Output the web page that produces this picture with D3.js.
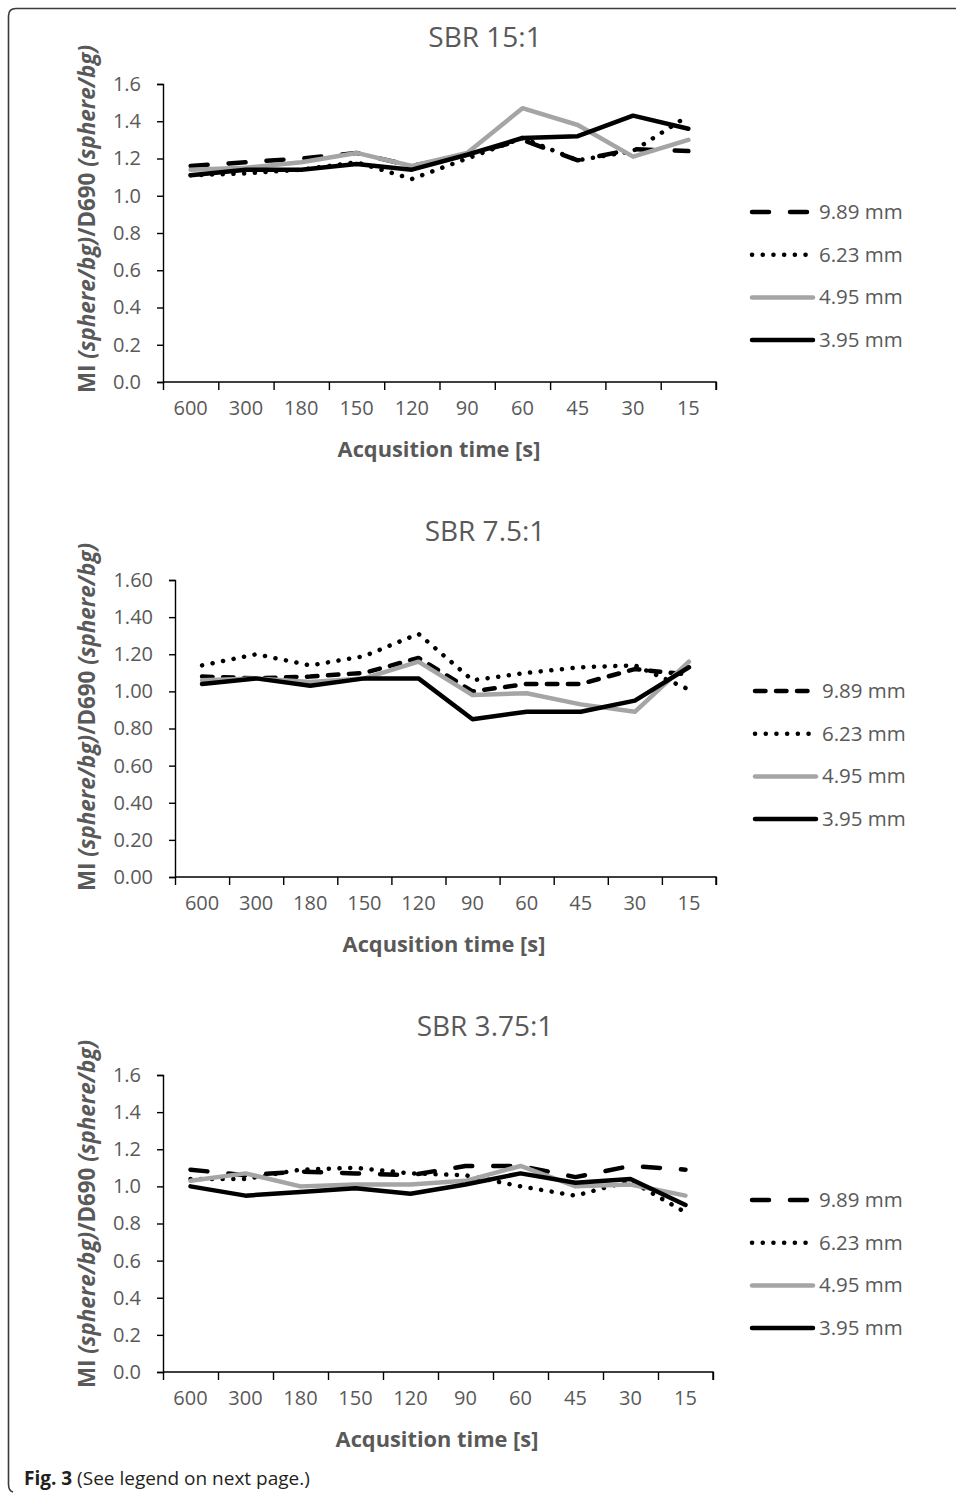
<!doctype html>
<html>
<head>
<meta charset="utf-8" />
<script src="https://cdn.jsdelivr.net/npm/d3@7"></script>
<style>
  body{margin:0;padding:0;background:#fff;}
  text{font-family:"Open Sans",sans-serif;}
</style>
</head>
<body>
<script type="text/javascript">

  // acquisition times (categories on x)
  var times = ["600","300","180","150","120","90","60","45","30","15"];
  // sphere sizes (series)
  var sizes = ["9.89 mm","6.23 mm","4.95 mm","3.95 mm"];
  var yTicks = [0,0.2,0.4,0.6,0.8,1.0,1.2,1.4,1.6];

  // SBR 15:1
  var sbr15_989 = [1.16,1.18,1.20,1.23,1.16,1.22,1.30,1.19,1.25,1.24];
  var sbr15_623 = [1.11,1.12,1.14,1.18,1.09,1.20,1.31,1.19,1.24,1.43];
  var sbr15_495 = [1.14,1.15,1.18,1.23,1.16,1.23,1.47,1.38,1.21,1.30];
  var sbr15_395 = [1.11,1.14,1.14,1.17,1.14,1.22,1.31,1.32,1.43,1.36];

  // SBR 7.5:1
  var sbr75_989 = [1.08,1.07,1.08,1.10,1.18,1.00,1.04,1.04,1.12,1.09];
  var sbr75_623 = [1.14,1.20,1.14,1.19,1.31,1.06,1.10,1.13,1.14,1.01];
  var sbr75_495 = [1.06,1.07,1.05,1.07,1.16,0.98,0.99,0.93,0.89,1.16];
  var sbr75_395 = [1.04,1.07,1.03,1.07,1.07,0.85,0.89,0.89,0.95,1.13];

  // SBR 3.75:1
  var sbr375_989 = [1.09,1.06,1.08,1.07,1.06,1.11,1.11,1.05,1.11,1.09];
  var sbr375_623 = [1.04,1.04,1.09,1.10,1.07,1.06,1.00,0.95,1.03,0.86];
  var sbr375_495 = [1.03,1.07,1.00,1.01,1.01,1.03,1.11,1.00,1.01,0.95];
  var sbr375_395 = [1.00,0.95,0.97,0.99,0.96,1.01,1.07,1.02,1.04,0.90];

  var W = 956, H = 1494;
  var svg = d3.select("body").append("svg").attr("width",W).attr("height",H);

  // cornice della figura (solo sopra e a sinistra)
  svg.append("path")
    .attr("d","M956,8.5H16Q8.5,8.5 8.5,16V1484Q8.5,1491 13,1492")
    .attr("fill","none").attr("stroke","#3a3a3a").attr("stroke-width",1.6);

  var lineColors = ["#000","#000","#a5a5a5","#000"];

  function drawPanel(p){
    var x = d3.scaleBand().domain(times).range([p.left,p.right]).padding(0);
    var xb = d3.scaleLinear().domain([0,times.length]).range([p.left,p.right]);
    var y = d3.scaleLinear().domain([0,1.6]).range([p.bottom,p.top]);
    var g = svg.append("g");

    // titolo
    g.append("text").attr("x",485).attr("y",p.titleY).attr("text-anchor","middle")
      .attr("font-size","28px").attr("fill","#595959").text(p.title);

    // asse y
    var ya = g.append("g").attr("transform","translate("+p.left+",0)")
      .call(d3.axisLeft(y).tickValues(yTicks).tickSize(6).tickPadding(16).tickFormat(d3.format(p.fmt)));
    ya.selectAll("path,line").attr("stroke","#000").attr("stroke-width",1.4);
    ya.selectAll("text").attr("font-size","20px").attr("fill","#595959").attr("font-family","Open Sans");

    // asse x: tacche ai bordi delle categorie
    var xa = g.append("g").attr("transform","translate(0,"+p.bottom+")")
      .call(d3.axisBottom(xb).ticks(times.length).tickSize(8).tickFormat(""));
    xa.selectAll("path,line").attr("stroke","#000").attr("stroke-width",1.4);
    xa.select("path").attr("d","M"+p.left+",0H"+p.right+"V8");
    var xl = g.append("g").attr("transform","translate(0,"+p.bottom+")")
      .call(d3.axisBottom(x).tickSize(0).tickPadding(19));
    xl.select("path").remove();
    xl.selectAll("text").attr("font-size","20px").attr("fill","#595959").attr("font-family","Open Sans");

    // etichette assi
    g.append("text").attr("x",p.xLabelX).attr("y",p.bottom+75).attr("text-anchor","middle")
      .attr("font-size","21.8px").attr("font-weight","bold").attr("fill","#595959").text("Acqusition time [s]");
    var yl = g.append("text").attr("transform","translate(95,"+p.yLabelY+") rotate(-90)")
      .attr("text-anchor","middle").attr("font-size","22.4px").attr("font-weight","bold").attr("fill","#595959");
    yl.append("tspan").text("MI ");
    yl.append("tspan").attr("font-style","italic").text("(sphere/bg)");
    yl.append("tspan").text("/D690 ");
    yl.append("tspan").attr("font-style","italic").text("(sphere/bg)");

    var dashes = [p.dash, "0.1 10.6", null, null];
    var line = d3.line().x(function(d,i){ return x(times[i]) + x.bandwidth()/2; }).y(function(d){ return y(d); });

    p.series.forEach(function(s,j){
      var path = g.append("path").datum(s).attr("d",line)
        .attr("fill","none").attr("stroke",lineColors[j]).attr("stroke-width",4.5)
        .attr("stroke-linecap","round").attr("stroke-linejoin","round");
      if(dashes[j]) path.attr("stroke-dasharray",dashes[j]);

      // legenda
      var ly = p.legendY + j*42.7;
      var lp = g.append("line").attr("x1",p.legX+2).attr("x2",p.legX+63).attr("y1",ly).attr("y2",ly)
        .attr("stroke",lineColors[j]).attr("stroke-width",4.5).attr("stroke-linecap","round");
      if(dashes[j]) lp.attr("stroke-dasharray",dashes[j]);
      g.append("text").attr("x",p.legX+69).attr("y",ly+7).attr("font-size","20.5px")
        .attr("fill","#595959").text(sizes[j]);
    });
  }

  drawPanel({title:"SBR 15:1", titleY:47, left:163, right:716, top:84, bottom:382, fmt:".1f",
    dash:"17 21", xLabelX:439, yLabelY:219, legX:750, legendY:212,
    series:[sbr15_989,sbr15_623,sbr15_495,sbr15_395]});

  drawPanel({title:"SBR 7.5:1", titleY:541, left:175, right:716, top:580, bottom:877, fmt:".2f",
    dash:"10.5 10.5", xLabelX:444, yLabelY:717, legX:753, legendY:691,
    series:[sbr75_989,sbr75_623,sbr75_495,sbr75_395]});

  drawPanel({title:"SBR 3.75:1", titleY:1036, left:163, right:713, top:1075, bottom:1372, fmt:".1f",
    dash:"17 21", xLabelX:437, yLabelY:1214, legX:750, legendY:1200,
    series:[sbr375_989,sbr375_623,sbr375_495,sbr375_395]});

  // didascalia
  var cap = svg.append("text").attr("x",24).attr("y",1485).attr("font-size","19px").attr("fill","#231f20");
  cap.append("tspan").attr("font-weight","bold").text("Fig. 3");
  cap.append("tspan").text(" (See legend on next page.)");

</script>
</body>
</html>
